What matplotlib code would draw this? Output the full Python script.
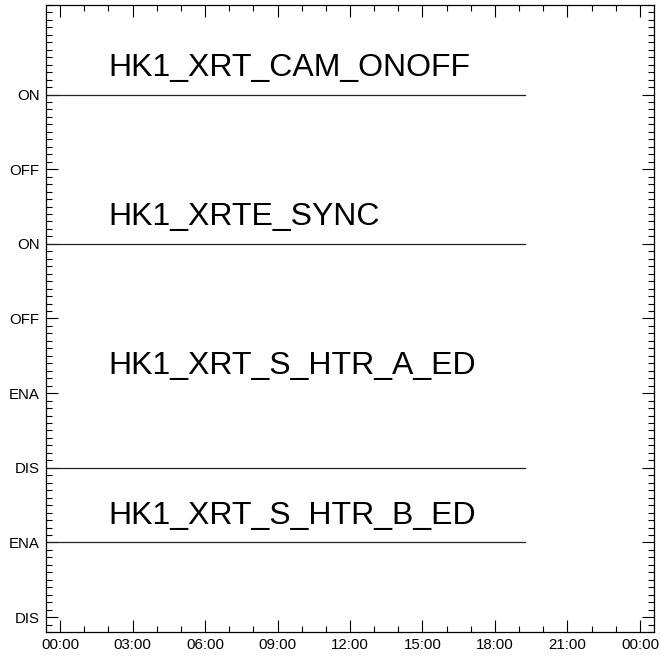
import matplotlib
matplotlib.use("Agg")
import matplotlib.pyplot as plt
from matplotlib.ticker import FixedLocator, MultipleLocator, FuncFormatter

plt.rcParams['font.family'] = ['Liberation Sans', 'DejaVu Sans']

# Data (hours of day)
series_names = ["HK1_XRT_CAM_ONOFF", "HK1_XRTE_SYNC", "HK1_XRT_S_HTR_A_ED", "HK1_XRT_S_HTR_B_ED"]
times = [-1.0, 19.25]
cam_onoff = [7, 7]      # ON
xrte_sync = [5, 5]      # ON
htr_a_ed = [2, 2]       # DIS
htr_b_ed = [1, 1]       # ENA
series_values = [cam_onoff, xrte_sync, htr_a_ed, htr_b_ed]
label_y = [7.25, 5.25, 3.25, 1.25]

ytick_pos = [0, 1, 2, 3, 4, 5, 6, 7]
ytick_labels = ["DIS", "ENA", "DIS", "ENA", "OFF", "ON", "OFF", "ON"]
xtick_pos = [0, 3, 6, 9, 12, 15, 18, 21, 24]

fig = plt.figure(figsize=(6.61, 6.56), dpi=100)
ax = fig.add_axes([46/661, 1-632/656, (654-46)/661, (632-5)/656])

for vals in series_values:
    ax.plot(times, vals, color='#222222', lw=0.9)
for name, yy in zip(series_names, label_y):
    ax.text(2.0, yy, name, fontsize=23, ha='left', va='baseline', color='black')

ax.set_xlim(-0.58, 24.58)
ax.set_ylim(-0.2, 8.2)

ax.xaxis.set_major_locator(FixedLocator(xtick_pos))
ax.xaxis.set_minor_locator(MultipleLocator(1))
ax.xaxis.set_major_formatter(FuncFormatter(lambda v, p: "%02d:00" % (int(round(v)) % 24)))
ax.yaxis.set_major_locator(FixedLocator(ytick_pos))
ax.yaxis.set_minor_locator(MultipleLocator(0.1))
ax.set_yticklabels(ytick_labels)

ax.tick_params(which='both', direction='in', top=True, right=True, color='black', width=0.8)
ax.tick_params(which='major', length=8.5, labelsize=10.8, pad=4.5)
ax.tick_params(which='minor', length=4.5)
for sp in ax.spines.values():
    sp.set_linewidth(0.9)

fig.savefig("out.png", dpi=100)
